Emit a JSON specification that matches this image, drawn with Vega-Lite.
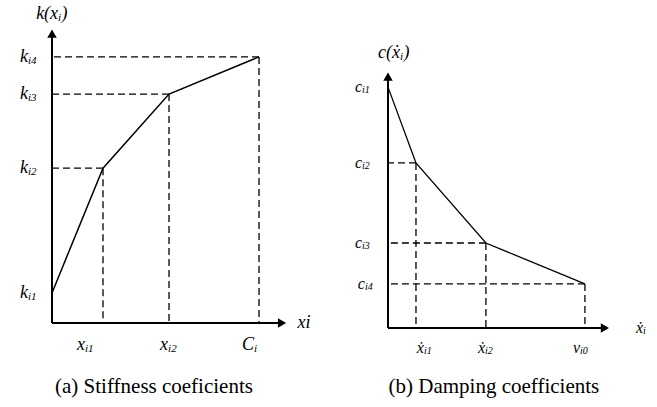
{
  "$schema": "https://vega.github.io/schema/vega-lite/v6.json",
  "padding": 0,
  "bounds": "flush",
  "spacing": 1,
  "config": {"view": {"stroke": null}, "text": {"font": "'Liberation Serif', 'Times New Roman', 'DejaVu Serif', serif", "color": "black"}},
  "datasets": {
    "A_axis": [
      {"x": 0, "y": 0, "x2": 9.79, "y2": 0, "dir": "triangle-right"},
      {"x": 0, "y": 0, "x2": 0, "y2": 9.81, "dir": "triangle-up"}
    ],
    "A_line": [
      {"x": 0, "y": 1.02}, {"x": 2.17, "y": 5.25}, {"x": 4.98, "y": 7.76}, {"x": 8.81, "y": 9.02}
    ],
    "A_dash": [
      {"x": 2.17, "y": 5.25}, {"x": 4.98, "y": 7.76}, {"x": 8.81, "y": 9.02}
    ],
    "A_lab": [
      {"m": "k", "s": "i4", "x": -1.02, "y": 9.02},
      {"m": "k", "s": "i3", "x": -1.02, "y": 7.76},
      {"m": "k", "s": "i2", "x": -1.02, "y": 5.25},
      {"m": "k", "s": "i1", "x": -1.02, "y": 1.02},
      {"m": "x", "s": "i1", "x": 1.40, "y": -0.76},
      {"m": "x", "s": "i2", "x": 4.94, "y": -0.76},
      {"m": "C", "s": "i", "x": 8.60, "y": -0.76}
    ],
    "A_title": [{"m": "k(x", "s": "i", "e": ")", "x": 0.26, "y": 10.47}],
    "A_end": [{"t": "xi", "x": 10.72, "y": 0}],
    "A_cap": [{"t": "(a) Stiffness coeficients", "x": 4.34, "y": -2.17}],
    "B_axis": [
      {"x": 0, "y": 0, "x2": 9.77, "y2": 0, "dir": "triangle-right"},
      {"x": 0, "y": 0, "x2": 0, "y2": 9.82, "dir": "triangle-up"}
    ],
    "B_line": [
      {"x": 0, "y": 9.41}, {"x": 1.26, "y": 6.45}, {"x": 4.41, "y": 3.32}, {"x": 8.87, "y": 1.72}
    ],
    "B_dash": [
      {"x": 1.26, "y": 6.45}, {"x": 4.41, "y": 3.32}, {"x": 8.87, "y": 1.72}
    ],
    "B_lab": [
      {"m": "c", "s": "i1", "x": -1.17, "y": 9.41},
      {"m": "c", "s": "i2", "x": -1.17, "y": 6.45},
      {"m": "c", "s": "i3", "x": -1.17, "y": 3.32},
      {"m": "c", "s": "i4", "x": -1.04, "y": 1.72},
      {"m": "ẋ", "s": "i1", "x": 1.62, "y": -0.78},
      {"m": "ẋ", "s": "i2", "x": 4.37, "y": -0.78},
      {"m": "v", "s": "i0", "x": 8.65, "y": -0.78},
      {"m": "ẋ", "s": "i", "x": 11.49, "y": 0}
    ],
    "B_title": [{"m": "c(ẋ", "s": "i", "e": ")", "x": 0.54, "y": 10.74}],
    "B_cap": [{"t": "(b) Damping coefficients", "x": 4.77, "y": -2.30}]
  },
  "hconcat": [
    {
      "width": 328,
      "height": 407,
      "layer": [
        {
          "data": {"name": "A_axis"},
          "mark": {"type": "rule", "strokeWidth": 2, "color": "black"},
          "encoding": {
            "x": {"field": "x", "type": "quantitative", "scale": {"domain": [-2.213, 11.745], "nice": false, "zero": false}, "axis": null},
            "y": {"field": "y", "type": "quantitative", "scale": {"domain": [-2.847, 10.949], "nice": false, "zero": false}, "axis": null},
            "x2": {"field": "x2"},
            "y2": {"field": "y2"}
          }
        },
        {
          "data": {"name": "A_axis"},
          "mark": {"type": "point", "filled": true, "size": 90, "opacity": 1, "color": "black"},
          "encoding": {
            "x": {"field": "x2", "type": "quantitative", "scale": {"domain": [-2.213, 11.745], "nice": false, "zero": false}, "axis": null},
            "y": {"field": "y2", "type": "quantitative", "scale": {"domain": [-2.847, 10.949], "nice": false, "zero": false}, "axis": null},
            "shape": {"field": "dir", "type": "nominal", "scale": null}
          }
        },
        {
          "data": {"name": "A_dash"},
          "mark": {"type": "rule", "strokeDash": [7, 4], "strokeWidth": 1.3, "color": "black"},
          "encoding": {
            "x": {"field": "x", "type": "quantitative", "scale": {"domain": [-2.213, 11.745], "nice": false, "zero": false}, "axis": null},
            "x2": {"datum": 0},
            "y": {"field": "y", "type": "quantitative", "scale": {"domain": [-2.847, 10.949], "nice": false, "zero": false}, "axis": null}
          }
        },
        {
          "data": {"name": "A_dash"},
          "mark": {"type": "rule", "strokeDash": [7, 4], "strokeWidth": 1.3, "color": "black"},
          "encoding": {
            "x": {"field": "x", "type": "quantitative", "scale": {"domain": [-2.213, 11.745], "nice": false, "zero": false}, "axis": null},
            "y": {"field": "y", "type": "quantitative", "scale": {"domain": [-2.847, 10.949], "nice": false, "zero": false}, "axis": null},
            "y2": {"datum": 0}
          }
        },
        {
          "data": {"name": "A_line"},
          "mark": {"type": "line", "strokeWidth": 1.5, "color": "black"},
          "encoding": {
            "x": {"field": "x", "type": "quantitative", "scale": {"domain": [-2.213, 11.745], "nice": false, "zero": false}, "axis": null},
            "y": {"field": "y", "type": "quantitative", "scale": {"domain": [-2.847, 10.949], "nice": false, "zero": false}, "axis": null}
          }
        },
        {
          "data": {"name": "A_lab"},
          "mark": {"type": "text", "align": "right", "baseline": "middle", "fontStyle": "italic", "fontSize": 18},
          "encoding": {
            "x": {"field": "x", "type": "quantitative", "scale": {"domain": [-2.213, 11.745], "nice": false, "zero": false}, "axis": null},
            "y": {"field": "y", "type": "quantitative", "scale": {"domain": [-2.847, 10.949], "nice": false, "zero": false}, "axis": null},
            "text": {"field": "m"}
          }
        },
        {
          "data": {"name": "A_lab"},
          "mark": {"type": "text", "align": "left", "baseline": "middle", "fontStyle": "italic", "fontSize": 11, "dy": 4},
          "encoding": {
            "x": {"field": "x", "type": "quantitative", "scale": {"domain": [-2.213, 11.745], "nice": false, "zero": false}, "axis": null},
            "y": {"field": "y", "type": "quantitative", "scale": {"domain": [-2.847, 10.949], "nice": false, "zero": false}, "axis": null},
            "text": {"field": "s"}
          }
        },
        {
          "data": {"name": "A_title"},
          "mark": {"type": "text", "align": "right", "baseline": "middle", "fontStyle": "italic", "fontSize": 18},
          "encoding": {
            "x": {"field": "x", "type": "quantitative", "scale": {"domain": [-2.213, 11.745], "nice": false, "zero": false}, "axis": null},
            "y": {"field": "y", "type": "quantitative", "scale": {"domain": [-2.847, 10.949], "nice": false, "zero": false}, "axis": null},
            "text": {"field": "m"}
          }
        },
        {
          "data": {"name": "A_title"},
          "mark": {"type": "text", "align": "left", "baseline": "middle", "fontStyle": "italic", "fontSize": 11, "dy": 4},
          "encoding": {
            "x": {"field": "x", "type": "quantitative", "scale": {"domain": [-2.213, 11.745], "nice": false, "zero": false}, "axis": null},
            "y": {"field": "y", "type": "quantitative", "scale": {"domain": [-2.847, 10.949], "nice": false, "zero": false}, "axis": null},
            "text": {"field": "s"}
          }
        },
        {
          "data": {"name": "A_title"},
          "mark": {"type": "text", "align": "left", "baseline": "middle", "fontStyle": "italic", "fontSize": 18, "dx": 3.5},
          "encoding": {
            "x": {"field": "x", "type": "quantitative", "scale": {"domain": [-2.213, 11.745], "nice": false, "zero": false}, "axis": null},
            "y": {"field": "y", "type": "quantitative", "scale": {"domain": [-2.847, 10.949], "nice": false, "zero": false}, "axis": null},
            "text": {"field": "e"}
          }
        },
        {
          "data": {"name": "A_end"},
          "mark": {"type": "text", "align": "center", "baseline": "middle", "fontStyle": "italic", "fontSize": 18},
          "encoding": {
            "x": {"field": "x", "type": "quantitative", "scale": {"domain": [-2.213, 11.745], "nice": false, "zero": false}, "axis": null},
            "y": {"field": "y", "type": "quantitative", "scale": {"domain": [-2.847, 10.949], "nice": false, "zero": false}, "axis": null},
            "text": {"field": "t"}
          }
        },
        {
          "data": {"name": "A_cap"},
          "mark": {"type": "text", "align": "center", "baseline": "middle", "fontSize": 21},
          "encoding": {
            "x": {"field": "x", "type": "quantitative", "scale": {"domain": [-2.213, 11.745], "nice": false, "zero": false}, "axis": null},
            "y": {"field": "y", "type": "quantitative", "scale": {"domain": [-2.847, 10.949], "nice": false, "zero": false}, "axis": null},
            "text": {"field": "t"}
          }
        }
      ]
    },
    {
      "width": 328,
      "height": 407,
      "layer": [
        {
          "data": {"name": "B_axis"},
          "mark": {"type": "rule", "strokeWidth": 2, "color": "black"},
          "encoding": {
            "x": {"field": "x", "type": "quantitative", "scale": {"domain": [-2.658, 12.117], "nice": false, "zero": false}, "axis": null},
            "y": {"field": "y", "type": "quantitative", "scale": {"domain": [-3.086, 12.8125], "nice": false, "zero": false}, "axis": null},
            "x2": {"field": "x2"},
            "y2": {"field": "y2"}
          }
        },
        {
          "data": {"name": "B_axis"},
          "mark": {"type": "point", "filled": true, "size": 90, "opacity": 1, "color": "black"},
          "encoding": {
            "x": {"field": "x2", "type": "quantitative", "scale": {"domain": [-2.658, 12.117], "nice": false, "zero": false}, "axis": null},
            "y": {"field": "y2", "type": "quantitative", "scale": {"domain": [-3.086, 12.8125], "nice": false, "zero": false}, "axis": null},
            "shape": {"field": "dir", "type": "nominal", "scale": null}
          }
        },
        {
          "data": {"name": "B_dash"},
          "mark": {"type": "rule", "strokeDash": [7, 4], "strokeWidth": 1.3, "color": "black"},
          "encoding": {
            "x": {"field": "x", "type": "quantitative", "scale": {"domain": [-2.658, 12.117], "nice": false, "zero": false}, "axis": null},
            "x2": {"datum": 0},
            "y": {"field": "y", "type": "quantitative", "scale": {"domain": [-3.086, 12.8125], "nice": false, "zero": false}, "axis": null}
          }
        },
        {
          "data": {"name": "B_dash"},
          "mark": {"type": "rule", "strokeDash": [7, 4], "strokeWidth": 1.3, "color": "black"},
          "encoding": {
            "x": {"field": "x", "type": "quantitative", "scale": {"domain": [-2.658, 12.117], "nice": false, "zero": false}, "axis": null},
            "y": {"field": "y", "type": "quantitative", "scale": {"domain": [-3.086, 12.8125], "nice": false, "zero": false}, "axis": null},
            "y2": {"datum": 0}
          }
        },
        {
          "data": {"name": "B_line"},
          "mark": {"type": "line", "strokeWidth": 1.3, "color": "black"},
          "encoding": {
            "x": {"field": "x", "type": "quantitative", "scale": {"domain": [-2.658, 12.117], "nice": false, "zero": false}, "axis": null},
            "y": {"field": "y", "type": "quantitative", "scale": {"domain": [-3.086, 12.8125], "nice": false, "zero": false}, "axis": null}
          }
        },
        {
          "data": {"name": "B_lab"},
          "mark": {"type": "text", "align": "right", "baseline": "middle", "fontStyle": "italic", "fontSize": 16},
          "encoding": {
            "x": {"field": "x", "type": "quantitative", "scale": {"domain": [-2.658, 12.117], "nice": false, "zero": false}, "axis": null},
            "y": {"field": "y", "type": "quantitative", "scale": {"domain": [-3.086, 12.8125], "nice": false, "zero": false}, "axis": null},
            "text": {"field": "m"}
          }
        },
        {
          "data": {"name": "B_lab"},
          "mark": {"type": "text", "align": "left", "baseline": "middle", "fontStyle": "italic", "fontSize": 10, "dy": 3},
          "encoding": {
            "x": {"field": "x", "type": "quantitative", "scale": {"domain": [-2.658, 12.117], "nice": false, "zero": false}, "axis": null},
            "y": {"field": "y", "type": "quantitative", "scale": {"domain": [-3.086, 12.8125], "nice": false, "zero": false}, "axis": null},
            "text": {"field": "s"}
          }
        },
        {
          "data": {"name": "B_title"},
          "mark": {"type": "text", "align": "right", "baseline": "middle", "fontStyle": "italic", "fontSize": 18},
          "encoding": {
            "x": {"field": "x", "type": "quantitative", "scale": {"domain": [-2.658, 12.117], "nice": false, "zero": false}, "axis": null},
            "y": {"field": "y", "type": "quantitative", "scale": {"domain": [-3.086, 12.8125], "nice": false, "zero": false}, "axis": null},
            "text": {"field": "m"}
          }
        },
        {
          "data": {"name": "B_title"},
          "mark": {"type": "text", "align": "left", "baseline": "middle", "fontStyle": "italic", "fontSize": 11, "dy": 4},
          "encoding": {
            "x": {"field": "x", "type": "quantitative", "scale": {"domain": [-2.658, 12.117], "nice": false, "zero": false}, "axis": null},
            "y": {"field": "y", "type": "quantitative", "scale": {"domain": [-3.086, 12.8125], "nice": false, "zero": false}, "axis": null},
            "text": {"field": "s"}
          }
        },
        {
          "data": {"name": "B_title"},
          "mark": {"type": "text", "align": "left", "baseline": "middle", "fontStyle": "italic", "fontSize": 18, "dx": 3.5},
          "encoding": {
            "x": {"field": "x", "type": "quantitative", "scale": {"domain": [-2.658, 12.117], "nice": false, "zero": false}, "axis": null},
            "y": {"field": "y", "type": "quantitative", "scale": {"domain": [-3.086, 12.8125], "nice": false, "zero": false}, "axis": null},
            "text": {"field": "e"}
          }
        },
        {
          "data": {"name": "B_cap"},
          "mark": {"type": "text", "align": "center", "baseline": "middle", "fontSize": 21},
          "encoding": {
            "x": {"field": "x", "type": "quantitative", "scale": {"domain": [-2.658, 12.117], "nice": false, "zero": false}, "axis": null},
            "y": {"field": "y", "type": "quantitative", "scale": {"domain": [-3.086, 12.8125], "nice": false, "zero": false}, "axis": null},
            "text": {"field": "t"}
          }
        }
      ]
    }
  ]
}
